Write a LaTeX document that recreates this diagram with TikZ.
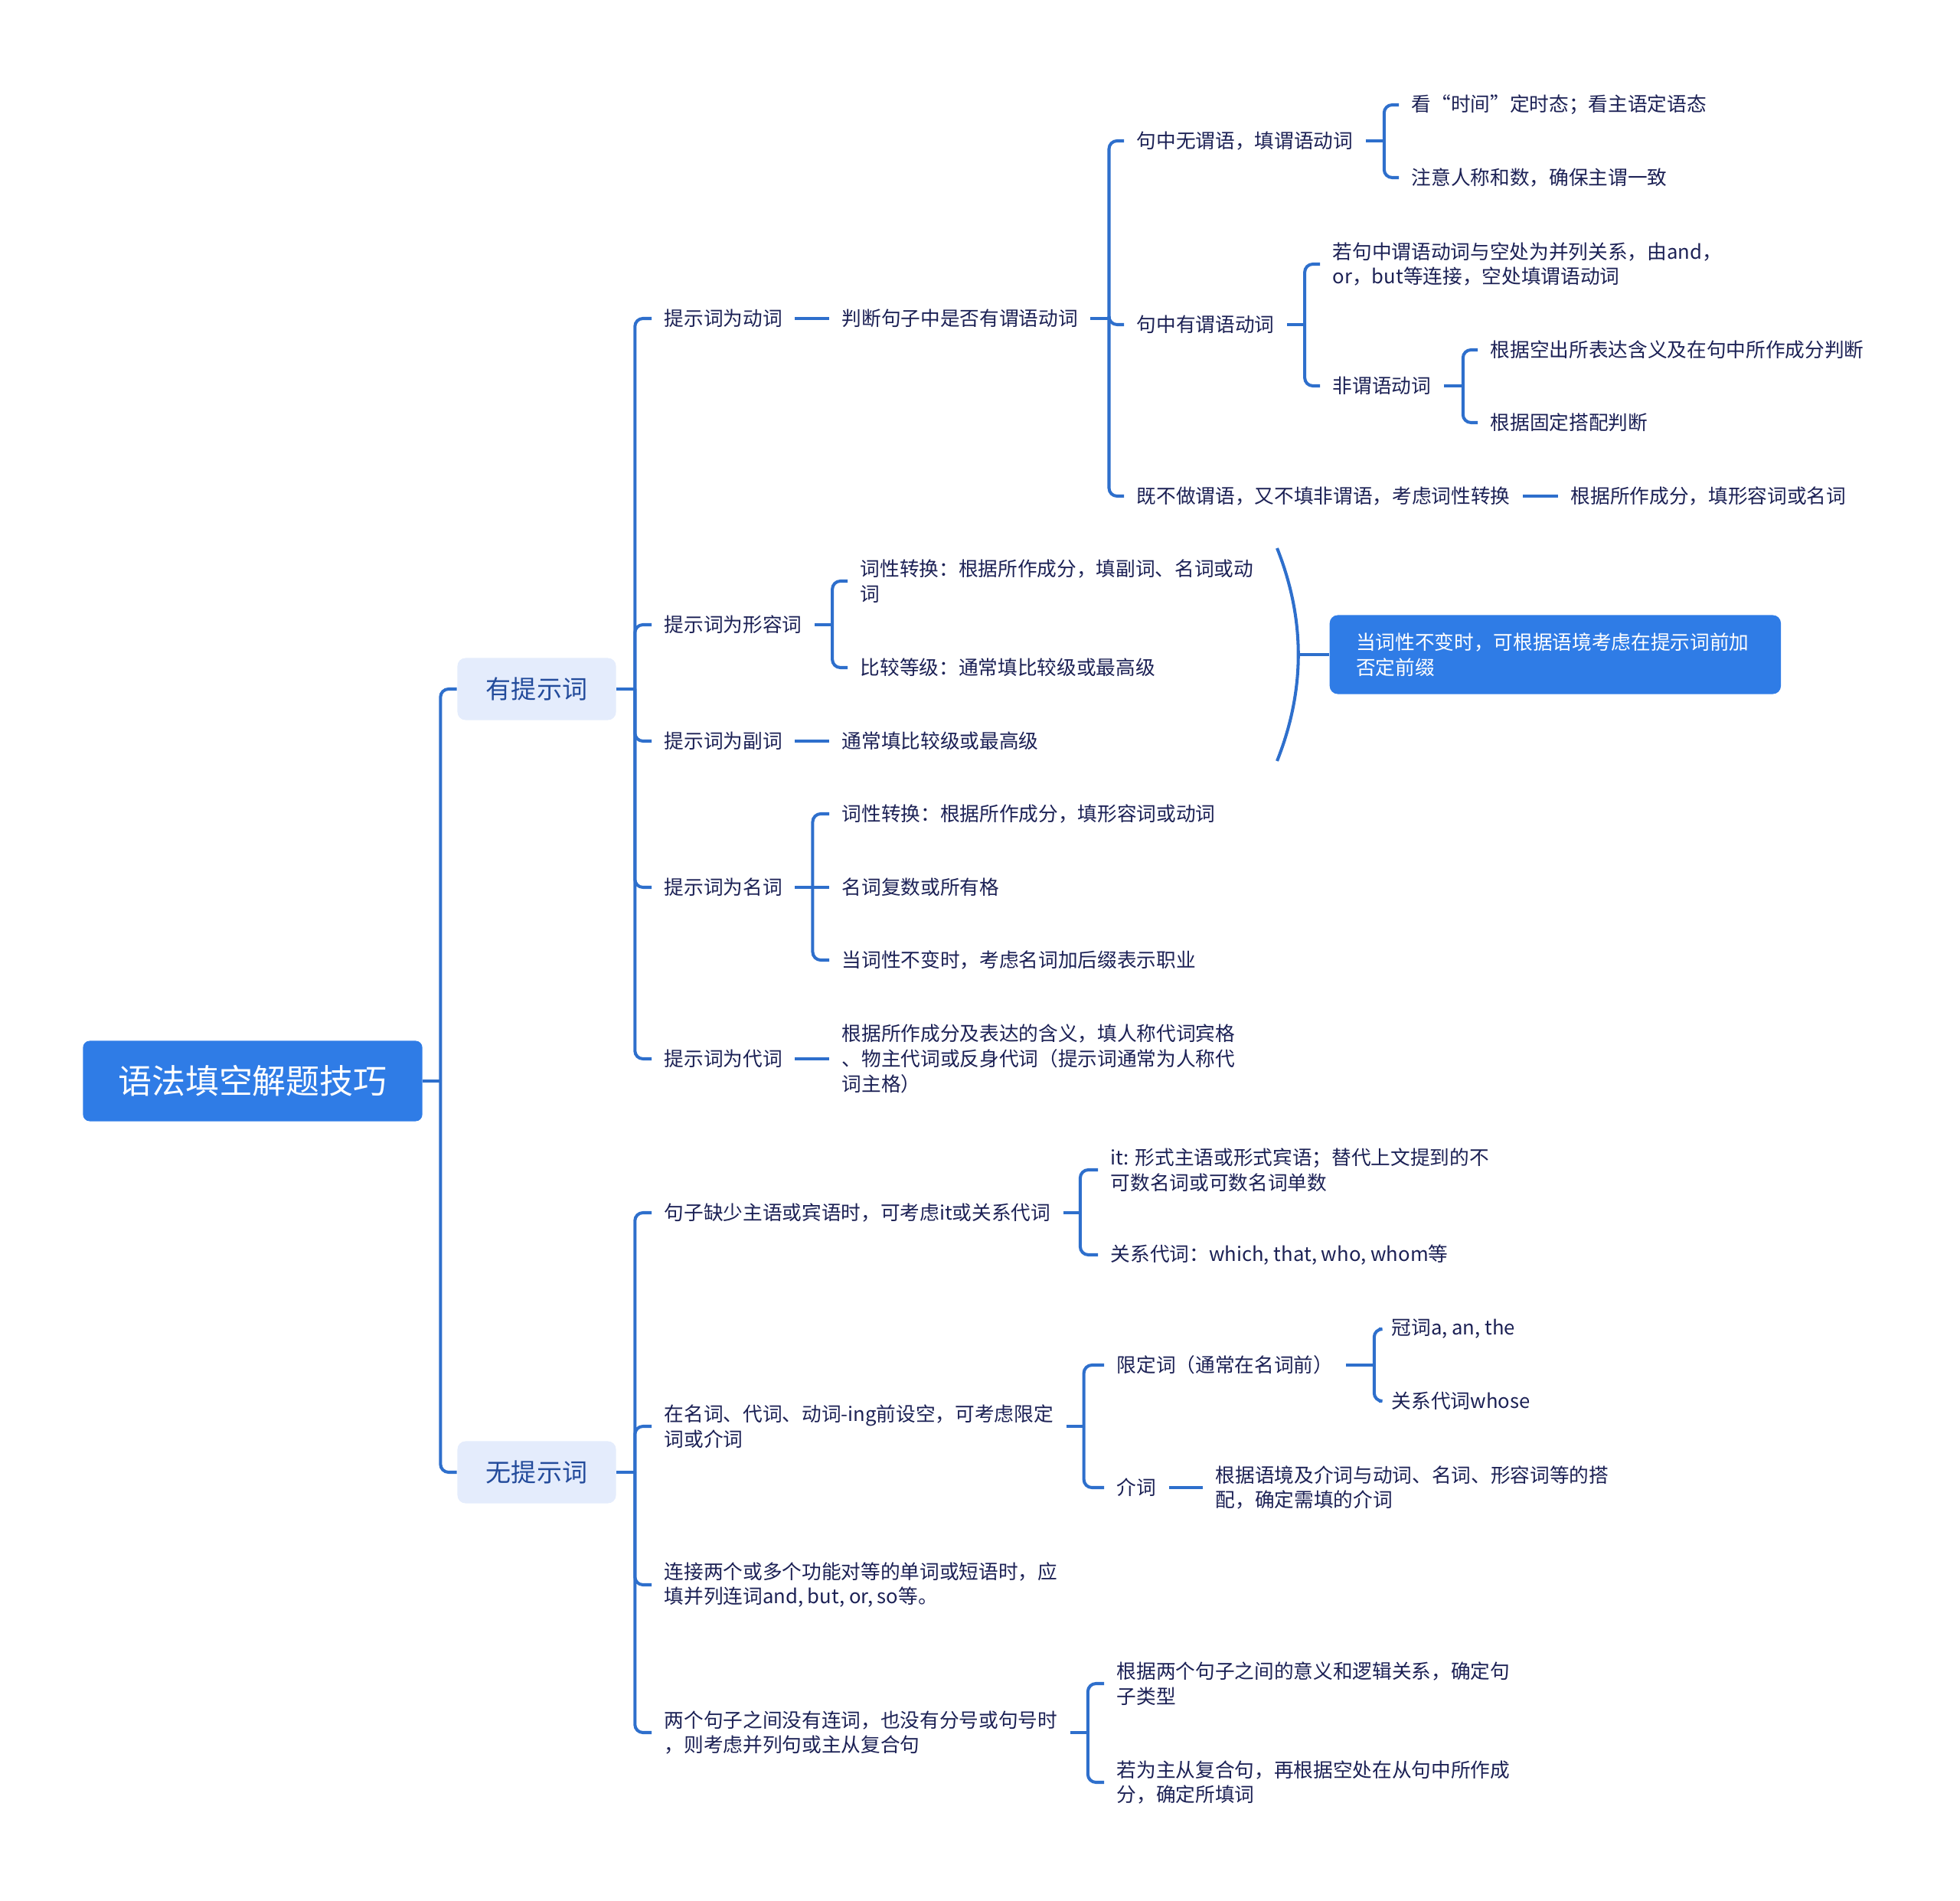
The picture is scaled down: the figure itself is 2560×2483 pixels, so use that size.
\documentclass[tikz,border=0pt]{standalone}
\usepackage{fontspec}
\setmainfont{Noto Sans CJK SC}
\usetikzlibrary{calc}
\definecolor{linkblue}{RGB}{46,111,204}
\definecolor{rootblue}{RGB}{47,124,230}
\definecolor{topicfill}{RGB}{228,236,252}
\definecolor{topictext}{RGB}{35,75,155}
\definecolor{leaftext}{RGB}{28,33,85}

\begin{document}
\begin{tikzpicture}[x=0.01cm, y=-0.01cm,
  link/.style={draw=linkblue, line width=1.15pt, rounded corners=3pt},
  leaf/.style={anchor=west, inner xsep=0.16cm, inner ysep=2pt, align=left, text=leaftext, font=\fontsize{7.3pt}{9.3pt}\selectfont},
  rootbox/.style={fill=rootblue, rounded corners=2.5pt, text=white, minimum width=4.43cm, minimum height=1.05cm, font=\fontsize{12.5pt}{15pt}\selectfont},
  topic/.style={fill=topicfill, rounded corners=3pt, text=topictext, minimum width=2.07cm, minimum height=0.81cm, font=\fontsize{9.4pt}{11pt}\selectfont},
  notebox/.style={anchor=west, fill=rootblue, rounded corners=3pt, text=white, align=left, text width=5.2cm, inner xsep=0.345cm, minimum height=1.03cm, font=\fontsize{7.3pt}{9.3pt}\selectfont}]

\useasboundingbox (0,0) rectangle (2560,2483);

% main topics
\node [rootbox] (root) at (330,1412) {语法填空解题技巧};
\node [topic] (hint) at (701,900) {有提示词};
\node [topic] (nohint) at (701,1923) {无提示词};

% with hint word
\node [leaf] (verb) at (851,416) {提示词为动词};
\node [leaf] (adj) at (851,816) {提示词为形容词};
\node [leaf] (adv) at (851,968) {提示词为副词};
\node [leaf] (noun) at (851,1159) {提示词为名词};
\node [leaf] (pron) at (851,1383) {提示词为代词};

\node [leaf] (judge) at (1083,416) {判断句子中是否有谓语动词};
\node [leaf] (nopred) at (1468,184) {句中无谓语，填谓语动词};
\node [leaf] (haspred) at (1468,424) {句中有谓语动词};
\node [leaf] (neither) at (1468,648) {既不做谓语，又不填非谓语，考虑词性转换};
\node [leaf] (tense) at (1827,137) {看“时间”定时态；看主语定语态};
\node [leaf] (agree) at (1827,232) {注意人称和数，确保主谓一致};
\node [leaf] (parallel) at (1724,345) {若句中谓语动词与空处为并列关系，由and，\\or，but等连接，空处填谓语动词};
\node [leaf] (nonfin) at (1724,504) {非谓语动词};
\node [leaf] (meaning) at (1930,457) {根据空出所表达含义及在句中所作成分判断};
\node [leaf] (fixed) at (1930,552) {根据固定搭配判断};
\node [leaf] (adjnoun) at (2035,648) {根据所作成分，填形容词或名词};

\node [leaf] (adjconv) at (1107,759) {词性转换：根据所作成分，填副词、名词或动\\词};
\node [leaf] (adjcomp) at (1107,872) {比较等级：通常填比较级或最高级};
\node [leaf] (advcomp) at (1083,968) {通常填比较级或最高级};
\node [notebox] (prefix) at (1736,855) {当词性不变时，可根据语境考虑在提示词前加\\否定前缀};

\node [leaf] (nounconv) at (1083,1063) {词性转换：根据所作成分，填形容词或动词};
\node [leaf] (plural) at (1083,1159) {名词复数或所有格};
\node [leaf] (suffix) at (1083,1254) {当词性不变时，考虑名词加后缀表示职业};
\node [leaf] (proncase) at (1083,1383) {根据所作成分及表达的含义，填人称代词宾格\\、物主代词或反身代词（提示词通常为人称代\\词主格）};

% without hint word
\node [leaf] (lack) at (851,1584) {句子缺少主语或宾语时，可考虑it或关系代词};
\node [leaf] (det) at (851,1863) {在名词、代词、动词-ing前设空，可考虑限定\\词或介词};
\node [leaf] (conj) at (851,2070) {连接两个或多个功能对等的单词或短语时，应\\填并列连词and, but, or, so等。};
\node [leaf] (twosent) at (851,2263) {两个句子之间没有连词，也没有分号或句号时\\，则考虑并列句或主从复合句};

\node [leaf] (itword) at (1434,1528) {it: 形式主语或形式宾语；替代上文提到的不\\可数名词或可数名词单数};
\node [leaf] (relpron) at (1434,1639) {关系代词：which, that, who, whom等};
\node [leaf] (limit) at (1442,1783) {限定词（通常在名词前）};
\node [leaf] (prep) at (1442,1943) {介词};
\node [leaf] (article) at (1801,1736) {冠词a, an, the};
\node [leaf] (whose) at (1801,1830) {关系代词whose};
\node [leaf] (prepuse) at (1571,1943) {根据语境及介词与动词、名词、形容词等的搭\\配，确定需填的介词};
\node [leaf] (senttype) at (1442,2199) {根据两个句子之间的意义和逻辑关系，确定句\\子类型};
\node [leaf] (clause) at (1442,2328) {若为主从复合句，再根据空处在从句中所作成\\分，确定所填词};

% junctions
\coordinate (rootJ) at ($(root.east)+(23,0)$);
\coordinate (hintJ) at ($(hint.east)+(24,0)$);
\coordinate (nohintJ) at ($(nohint.east)+(24,0)$);
\coordinate (judgeJ) at ($(judge.east)+(24,0)$);
\coordinate (nopredJ) at ($(nopred.east)+(24,0)$);
\coordinate (haspredJ) at ($(haspred.east)+(23,0)$);
\coordinate (nonfinJ) at ($(nonfin.east)+(25,0)$);
\coordinate (adjJ) at ($(adj.east)+(23,0)$);
\coordinate (nounJ) at ($(noun.east)+(23,0)$);
\coordinate (lackJ) at ($(lack.east)+(22,0)$);
\coordinate (detJ) at ($(det.east)+(23,0)$);
\coordinate (limitJ) at ($(limit.east)+(37,0)$);
\coordinate (twosentJ) at ($(twosent.east)+(23,0)$);

\begin{scope}[link]
\draw (root.east) -- (rootJ);
\draw (rootJ) |- (hint.west);
\draw (rootJ) |- (nohint.west);

\draw (hint.east) -- (hintJ);
\draw (hintJ) |- (verb.west);
\draw (hintJ) |- (adj.west);
\draw (hintJ) |- (adv.west);
\draw (hintJ) |- (noun.west);
\draw (hintJ) |- (pron.west);

\draw (verb.east) -- (judge.west);
\draw (judge.east) -- (judgeJ);
\draw (judgeJ) |- (nopred.west);
\draw (judgeJ) |- (haspred.west);
\draw (judgeJ) |- (neither.west);
\draw (nopred.east) -- (nopredJ);
\draw (nopredJ) |- (tense.west);
\draw (nopredJ) |- (agree.west);
\draw (haspred.east) -- (haspredJ);
\draw (haspredJ) |- (parallel.west);
\draw (haspredJ) |- (nonfin.west);
\draw (nonfin.east) -- (nonfinJ);
\draw (nonfinJ) |- (meaning.west);
\draw (nonfinJ) |- (fixed.west);
\draw (neither.east) -- (adjnoun.west);

\draw (adj.east) -- (adjJ);
\draw (adjJ) |- (adjconv.west);
\draw (adjJ) |- (adjcomp.west);
\draw (adv.east) -- (advcomp.west);

\draw (noun.east) -- (nounJ);
\draw (nounJ) |- (nounconv.west);
\draw (nounJ) -- (plural.west);
\draw (nounJ) |- (suffix.west);
\draw (pron.east) -- (proncase.west);

\draw (nohint.east) -- (nohintJ);
\draw (nohintJ) |- (lack.west);
\draw (nohintJ) |- (det.west);
\draw (nohintJ) |- (conj.west);
\draw (nohintJ) |- (twosent.west);

\draw (lack.east) -- (lackJ);
\draw (lackJ) |- (itword.west);
\draw (lackJ) |- (relpron.west);
\draw (det.east) -- (detJ);
\draw (detJ) |- (limit.west);
\draw (detJ) |- (prep.west);
\draw (limit.east) -- (limitJ);
\draw (limitJ) |- (article.west);
\draw (limitJ) |- (whose.west);
\draw (prep.east) -- (prepuse.west);
\draw (twosent.east) -- (twosentJ);
\draw (twosentJ) |- (senttype.west);
\draw (twosentJ) |- (clause.west);
\end{scope}

% summary brace over adjective and adverb
\coordinate (sumtop) at (1668,716);
\coordinate (sumbot) at (1668,994);
\coordinate (sumtip) at ($(prefix.west)+(-40,0)$);
\draw [link] (sumtop) .. controls (1705,809) and (1705,901) .. (sumbot);
\draw [link] (sumtip) -- (prefix.west);

\end{tikzpicture}
\end{document}
